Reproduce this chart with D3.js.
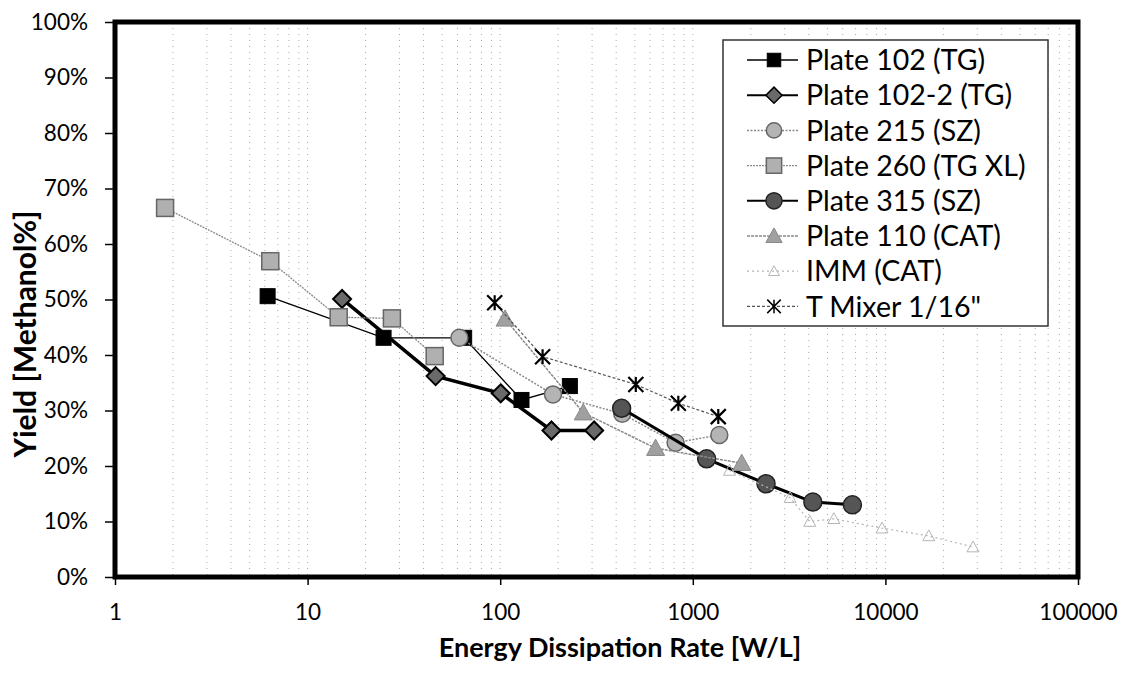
<!DOCTYPE html>
<html><head><meta charset="utf-8">
<script src="https://cdn.jsdelivr.net/npm/d3@7"></script>
<style>body{margin:0;background:#fff}svg{display:block}</style>
</head><body><svg id="c" width="1128" height="673"></svg>
<script>
const seriesNames = ["Plate 102 (TG)","Plate 102-2 (TG)","Plate 215 (SZ)","Plate 260 (TG XL)","Plate 315 (SZ)","Plate 110 (CAT)","IMM (CAT)","T Mixer 1/16\""];
const plate102   = [[6.2,0.506],[24.8,0.431],[65,0.431],[129,0.319],[230,0.344]];
const plate102_2 = [[15.1,0.501],[46.2,0.362],[100.6,0.331],[184.6,0.264],[307.5,0.264]];
const plate215   = [[61.4,0.431],[188,0.329],[430,0.294],[814,0.242],[1373,0.256]];
const plate260   = [[1.82,0.665],[6.4,0.569],[14.5,0.468],[27.4,0.466],[45.7,0.398]];
const plate315   = [[427,0.304],[1180,0.213],[2400,0.168],[4200,0.135],[6740,0.130]];
const plate110   = [[106,0.465],[270,0.296],[641,0.232],[1795,0.205]];
const imm        = [[1550,0.192],[3200,0.143],[4050,0.100],[5400,0.105],[9600,0.088],[16800,0.074],[28500,0.054]];
const tmixer     = [[93.6,0.494],[166,0.397],[506,0.347],[841,0.313],[1356,0.289]];
const xTicks = [1,10,100,1000,10000,100000];
const yTicks = [0,0.1,0.2,0.3,0.4,0.5,0.6,0.7,0.8,0.9,1.0];

const svg = d3.select("#c");
const L=115, R=1078, T=22, B=577;
const x = d3.scaleLog().domain([1,100000]).range([L,R]);
const y = d3.scaleLinear().domain([0,1]).range([B,T]);

// minor vertical gridlines
const grid=[];
for(let d=1; d<100000; d*=10) for(let k=2;k<=10;k++) grid.push(d*k);
svg.append("g").selectAll("line").data(grid.filter(v=>v<100000)).join("line")
  .attr("x1",d=>x(d)).attr("x2",d=>x(d)).attr("y1",T).attr("y2",B)
  .attr("stroke","#a8a8a8").attr("stroke-width",1).attr("stroke-dasharray","1,5");

// axes
const fontTick = "Lato, 'Open Sans', sans-serif";
const yAxis = svg.append("g").attr("transform",`translate(${L},0)`)
  .call(d3.axisLeft(y).tickValues(yTicks).tickFormat(d3.format(".0%")).tickSize(10).tickPadding(17));
const xAxis = svg.append("g").attr("transform",`translate(0,${B})`)
  .call(d3.axisBottom(x).tickValues(xTicks).tickFormat(d3.format("d")).tickSize(8).tickPadding(19));
[yAxis,xAxis].forEach(a=>{
  a.select(".domain").remove();
  a.selectAll("line").attr("stroke","#000").attr("stroke-width",1.5);
  a.selectAll("text").attr("font-family",fontTick).attr("font-size",22.5).attr("fill","#000");
});

// plot border
svg.append("rect").attr("x",L).attr("y",T).attr("width",R-L).attr("height",B-T)
  .attr("fill","none").attr("stroke","#000").attr("stroke-width",5);

// axis titles
svg.append("text").attr("x",620).attr("y",657).attr("text-anchor","middle")
  .attr("font-family",fontTick).attr("font-weight","bold").attr("font-size",27).text("Energy Dissipation Rate [W/L]");
svg.append("text").attr("transform","translate(36,334) rotate(-90)").attr("text-anchor","middle")
  .attr("font-family",fontTick).attr("font-weight","bold").attr("font-size",30).text("Yield [Methanol%]");

// marker drawing helpers
function marker(g, type, s){
  if(type==="square"){
    g.append("rect").attr("x",-s/2).attr("y",-s/2).attr("width",s).attr("height",s);
  } else if(type==="diamond"){
    const h=s/2; g.append("path").attr("d",`M0,${-h}L${h},0L0,${h}L${-h},0Z`);
  } else if(type==="circle"){
    g.append("circle").attr("r",s/2);
  } else if(type==="triangle"){
    const h=s/2; g.append("path").attr("d",`M0,${-h}L${h},${h*0.8}L${-h},${h*0.8}Z`);
  } else if(type==="asterisk"){
    const h=s/2; g.append("path").attr("d",`M${-h},${-h}L${h},${h}M${-h},${h}L${h},${-h}M0,${-h}L0,${h}`);
  }
}
const styles = [
  {data:plate102, line:"#000", lw:1.3, dash:null, m:"square", ms:15, fill:"#000", stroke:"#000", sw:1},
  {data:plate102_2, line:"#000", lw:3.5, dash:null, m:"diamond", ms:18, fill:"#6a6a6a", stroke:"#000", sw:2},
  {data:plate215, line:"#8a8a8a", lw:1.5, dash:"2,1.5", m:"circle", ms:17, fill:"#b4b4b4", stroke:"#666", sw:1.5},
  {data:plate260, line:"#8a8a8a", lw:1.3, dash:"2,1", m:"square", ms:17, fill:"#b0b0b0", stroke:"#666", sw:1.5},
  {data:plate315, line:"#000", lw:3, dash:null, m:"circle", ms:18, fill:"#555", stroke:"#222", sw:1.5},
  {data:plate110, line:"#8a8a8a", lw:1.5, dash:"3,1", m:"triangle", ms:18, fill:"#a0a0a0", stroke:"#888", sw:1},
  {data:imm, line:"#b5b5b5", lw:1.2, dash:"2,3", m:"triangle", ms:12, fill:"none", stroke:"#b5b5b5", sw:1},
  {data:tmixer, line:"#555", lw:1.2, dash:"3,2", m:"asterisk", ms:15, fill:"none", stroke:"#000", sw:2.2}
];
const line = d3.line().x(d=>x(d[0])).y(d=>y(d[1]));
styles.forEach(st=>{
  const g=svg.append("g");
  g.append("path").attr("d",line(st.data)).attr("fill","none").attr("stroke",st.line)
    .attr("stroke-width",st.lw).attr("stroke-dasharray",st.dash);
  st.data.forEach(d=>{
    const mg=g.append("g").attr("transform",`translate(${x(d[0])},${y(d[1])})`)
      .attr("fill",st.fill).attr("stroke",st.stroke).attr("stroke-width",st.sw);
    marker(mg, st.m, st.ms);
  });
});

// legend
const lg = svg.append("g");
lg.append("rect").attr("x",723).attr("y",40).attr("width",325).attr("height",286)
  .attr("fill","#fff").attr("stroke","#333").attr("stroke-width",1.5);
seriesNames.forEach((n,i)=>{
  const st=styles[i], cy=60+i*35.2;
  lg.append("line").attr("x1",747).attr("x2",798).attr("y1",cy).attr("y2",cy)
    .attr("stroke",st.line).attr("stroke-width",Math.min(st.lw,2)).attr("stroke-dasharray",st.dash);
  const mg=lg.append("g").attr("transform",`translate(774,${cy})`)
    .attr("fill",st.fill).attr("stroke",st.stroke).attr("stroke-width",Math.min(st.sw,1.5));
  marker(mg, st.m, st.ms*0.9);
  lg.append("text").attr("x",806).attr("y",cy).attr("dy","0.36em")
    .attr("font-family",fontTick).attr("font-size",28.5).attr("fill","#000").text(n);
});
</script></body></html>
